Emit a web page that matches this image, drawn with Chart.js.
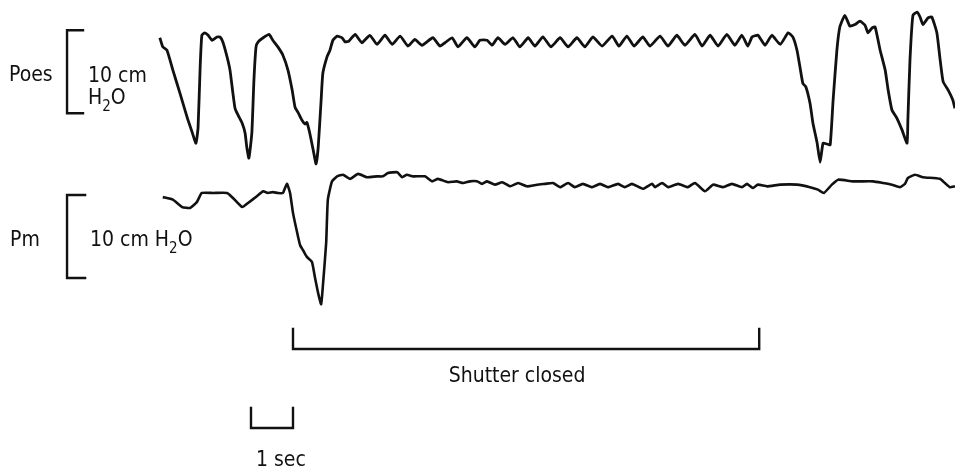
<!DOCTYPE html>
<html>
<head>
<meta charset="utf-8">
<script src="https://cdn.jsdelivr.net/npm/chart.js@4/dist/chart.umd.min.js"></script>
<style>
  body { margin: 0; background: #fff; }
  #wrap { width: 955px; height: 471px; position: relative; }
</style>
</head>
<body>
<div id="wrap"><canvas id="traceChart"></canvas></div>
<script>
// time in seconds, pressures in cm H2O (relative to the shutter-closed plateau)
var poesTime = [-0.17,-0.10,0.00,0.14,0.31,0.48,0.60,0.69,0.74,0.79,0.83,0.90,0.98,1.07,1.19,1.26,1.33,1.43,1.50,1.57,
  1.62,1.69,1.79,1.86,1.90,1.95,2.02,2.07,2.12,2.17,2.29,2.43,2.52,2.64,2.76,2.88,2.98,3.05,3.12,3.21,
  3.29,3.33,3.40,3.48,3.55,3.60,3.67,3.71,3.81,3.88,3.95,4.05,4.17,4.24,4.33,4.48,4.64,4.83,5.00,5.19,
  5.36,5.55,5.74,5.90,6.07,6.33,6.50,6.62,6.79,6.93,7.14,7.33,7.45,7.62,7.74,7.88,8.05,8.24,8.40,8.60,
  8.76,8.95,9.14,9.36,9.55,9.76,9.95,10.14,10.36,10.60,10.76,10.95,11.12,11.33,11.50,11.74,11.93,12.14,12.33,12.57,
  12.74,12.93,13.12,13.33,13.52,13.69,13.83,13.93,14.07,14.24,14.40,14.60,14.79,14.90,15.00,15.07,15.14,15.21,15.31,15.38,
  15.48,15.55,15.62,15.71,15.79,15.86,15.95,16.02,16.14,16.26,16.38,16.50,16.62,16.69,16.79,16.86,16.98,17.10,17.17,17.26,
  17.38,17.50,17.62,17.64,17.69,17.76,17.86,17.93,18.00,18.12,18.21,18.33,18.40,18.48,18.60,18.71,18.76];
var poesValues = [0.4,-0.7,-1.1,-3.5,-6.3,-9.2,-11.0,-12.3,-10.4,-3.1,0.7,1.0,0.7,0.1,0.5,0.5,-0.1,-1.9,-3.5,-6.3,
  -8.1,-8.9,-9.9,-11.1,-12.8,-14.1,-11.1,-4.7,-0.7,-0.1,0.4,0.8,0.1,-0.7,-1.7,-3.5,-5.9,-8.0,-8.6,-9.5,
  -10.0,-9.8,-11.1,-13.1,-14.8,-12.8,-7.1,-3.9,-1.9,-1.1,0.1,0.6,0.4,-0.1,0.0,0.8,-0.2,0.7,-0.4,0.7,
  -0.4,0.6,-0.6,0.2,-0.5,0.4,-0.6,-0.2,0.4,-0.7,0.4,-0.7,0.1,0.1,-0.5,0.4,-0.4,0.4,-0.7,0.4,
  -0.6,0.5,-0.7,0.4,-0.7,0.4,-0.7,0.5,-0.6,0.6,-0.6,0.6,-0.6,0.5,-0.6,0.6,-0.6,0.7,-0.5,0.8,
  -0.6,0.7,-0.6,0.8,-0.5,0.7,-0.6,0.5,0.7,-0.5,0.7,-0.4,1.0,0.5,-1.1,-3.1,-5.1,-5.5,-7.5,-9.9,
  -12.3,-14.6,-12.3,-12.4,-12.5,-7.1,-1.1,1.7,3.1,1.8,2.0,2.4,1.9,1.0,1.6,1.7,-1.1,-3.5,-5.9,-8.3,
  -9.3,-10.7,-12.3,-9.5,-2.3,3.1,3.5,2.9,2.0,2.8,2.9,1.0,-1.9,-4.9,-5.9,-7.1,-8.1];

var pmTime = [-0.10,0.14,0.36,0.55,0.71,0.83,1.10,1.43,1.57,1.79,1.93,2.14,2.29,2.40,2.52,2.64,2.76,2.81,2.86,2.93,
  3.00,3.10,3.17,3.24,3.33,3.45,3.52,3.60,3.67,3.71,3.79,3.83,3.93,4.05,4.19,4.36,4.55,4.76,5.00,5.14,
  5.26,5.48,5.60,5.71,5.86,6.14,6.31,6.45,6.69,6.90,7.05,7.21,7.38,7.50,7.62,7.81,7.98,8.17,8.36,8.57,
  8.81,9.00,9.19,9.36,9.55,9.71,9.90,10.12,10.31,10.50,10.74,10.90,11.07,11.33,11.55,11.62,11.79,11.93,12.17,12.40,
  12.57,12.81,13.00,13.24,13.45,13.69,13.81,13.95,14.07,14.29,14.60,15.00,15.31,15.50,15.64,15.83,15.98,16.33,16.81,17.05,
  17.26,17.45,17.57,17.64,17.81,18.00,18.40,18.52,18.64,18.76];
var pmValues = [-1.7,-2.0,-2.9,-3.0,-2.3,-1.2,-1.2,-1.2,-1.8,-2.9,-2.4,-1.6,-1.0,-1.2,-1.1,-1.2,-1.2,-0.6,-0.1,-1.2,
  -3.6,-6.0,-7.5,-8.1,-8.9,-9.5,-11.3,-13.3,-14.6,-12.5,-7.2,-2.0,0.2,0.8,1.0,0.5,1.1,0.7,0.8,0.8,
  1.2,1.3,0.7,1.0,0.8,0.8,0.2,0.5,0.1,0.2,0.0,0.2,0.2,-0.1,0.2,-0.2,0.1,-0.4,0.0,-0.4,
  -0.2,-0.1,0.0,-0.5,0.0,-0.5,-0.1,-0.5,-0.1,-0.5,-0.1,-0.5,-0.1,-0.7,-0.1,-0.5,0.0,-0.5,-0.1,-0.5,
  0.0,-1.0,-0.2,-0.5,-0.1,-0.5,-0.1,-0.6,-0.2,-0.4,-0.2,-0.2,-0.5,-0.8,-1.2,-0.2,0.4,0.2,0.2,0.0,
  -0.2,-0.5,-0.1,0.6,1.0,0.7,0.5,0.0,-0.5,-0.4];

// shutter closed and 1 s calibration (seconds)
var shutterStart = 3.0, shutterEnd = 14.1;
var secBarStart = 2.0, secBarEnd = 3.0;
var scaleBarCm = 10;

// vertical placement of the two traces on the shared cm axis
var POES_BASE = 51.8, PM_BASE = 34.7;

function toPoints(t, v, base) {
  var pts = [];
  for (var i = 0; i < Math.min(t.length, v.length); i++) pts.push({ x: t[i], y: v[i] + base });
  return pts;
}

var FONT = '"DejaVu Sans Condensed", "Liberation Sans Narrow", "DejaVu Sans", sans-serif';

// scale bars, brackets and labels
var annotations = {
  id: 'annotations',
  beforeDraw: function (chart) {
    var c = chart.ctx;
    c.save();
    c.fillStyle = '#fff';
    c.fillRect(0, 0, chart.width, chart.height);
    c.restore();
  },
  afterDraw: function (chart) {
    var c = chart.ctx, xs = chart.scales.x, ys = chart.scales.y;
    c.save();
    c.strokeStyle = '#111';
    c.fillStyle = '#111';
    c.lineWidth = 2.4;
    c.lineCap = 'square';

    function bracket(xLeft, xTick, yTop, yBot) {
      c.beginPath();
      c.moveTo(xTick, yTop); c.lineTo(xLeft, yTop);
      c.lineTo(xLeft, yBot); c.lineTo(xTick, yBot);
      c.stroke();
    }
    function hbracket(x1, x2, yTop, yBot) {
      c.beginPath();
      c.moveTo(x1, yTop); c.lineTo(x1, yBot);
      c.lineTo(x2, yBot); c.lineTo(x2, yTop);
      c.stroke();
    }
    function h2o(x, y, size) {
      c.font = size + 'px ' + FONT;
      c.fillText('H', x, y);
      var w = c.measureText('H').width;
      c.font = Math.round(size * 0.72) + 'px ' + FONT;
      c.fillText('2', x + w, y + 7);
      var w2 = c.measureText('2').width;
      c.font = size + 'px ' + FONT;
      c.fillText('O', x + w + w2, y);
    }

    var barX = xs.getPixelForValue(-2.38), tickX = xs.getPixelForValue(-2.0);
    // Poes 10 cm bar
    var pTop = ys.getPixelForValue(POES_BASE + 1.3), pBot = ys.getPixelForValue(POES_BASE + 1.3 - scaleBarCm);
    bracket(barX, tickX, pTop, pBot);
    // Pm 10 cm bar
    var mTop = ys.getPixelForValue(PM_BASE - 1.45), mBot = ys.getPixelForValue(PM_BASE - 1.45 - scaleBarCm);
    bracket(barX, xs.getPixelForValue(-1.95), mTop, mBot);

    // shutter closed bracket
    var sx1 = xs.getPixelForValue(shutterStart), sx2 = xs.getPixelForValue(shutterEnd);
    hbracket(sx1, sx2, 329, 349);
    // 1 sec bar
    var bx1 = xs.getPixelForValue(secBarStart), bx2 = xs.getPixelForValue(secBarEnd);
    hbracket(bx1, bx2, 408, 428);

    c.textBaseline = 'alphabetic';
    c.textAlign = 'left';
    var size = 21;
    c.font = size + 'px ' + FONT;
    c.fillText('Poes', 9, 81);
    c.fillText('10 cm', barX + 21, 82);
    h2o(barX + 21, 104, size);

    c.font = size + 'px ' + FONT;
    c.fillText('Pm', 10, 246);
    c.fillText('10 cm ', barX + 23, 246);
    var w = c.measureText('10 cm ').width;
    h2o(barX + 23 + w, 246, size);

    c.font = size + 'px ' + FONT;
    c.textAlign = 'center';
    c.fillText('Shutter closed', (sx1 + sx2) / 2 - 9, 382);
    c.textAlign = 'left';
    c.fillText('1 sec', bx1 + 5, 466);
    c.restore();
  }
};

var ctx = document.getElementById('traceChart').getContext('2d');
var myChart = new Chart(ctx, {
  type: 'line',
  data: {
    datasets: [
      {
        label: 'Poes',
        data: toPoints(poesTime, poesValues, POES_BASE),
        borderColor: '#111',
        borderWidth: 2.8,
        pointRadius: 0,
        tension: 0.15,
        fill: false
      },
      {
        label: 'Pm',
        data: toPoints(pmTime, pmValues, PM_BASE),
        borderColor: '#111',
        borderWidth: 2.6,
        pointRadius: 0,
        tension: 0.15,
        fill: false
      }
    ]
  },
  options: {
    responsive: true,
    maintainAspectRatio: false,
    animation: false,
    layout: { padding: 0 },
    plugins: { legend: { display: false }, tooltip: { enabled: false }, title: { display: false } },
    scales: {
      x: { type: 'linear', min: -3.976, max: 18.762, display: false },
      y: { type: 'linear', min: 0, max: 56.75, display: false }
    }
  },
  plugins: [annotations]
});
</script>
</body>
</html>
